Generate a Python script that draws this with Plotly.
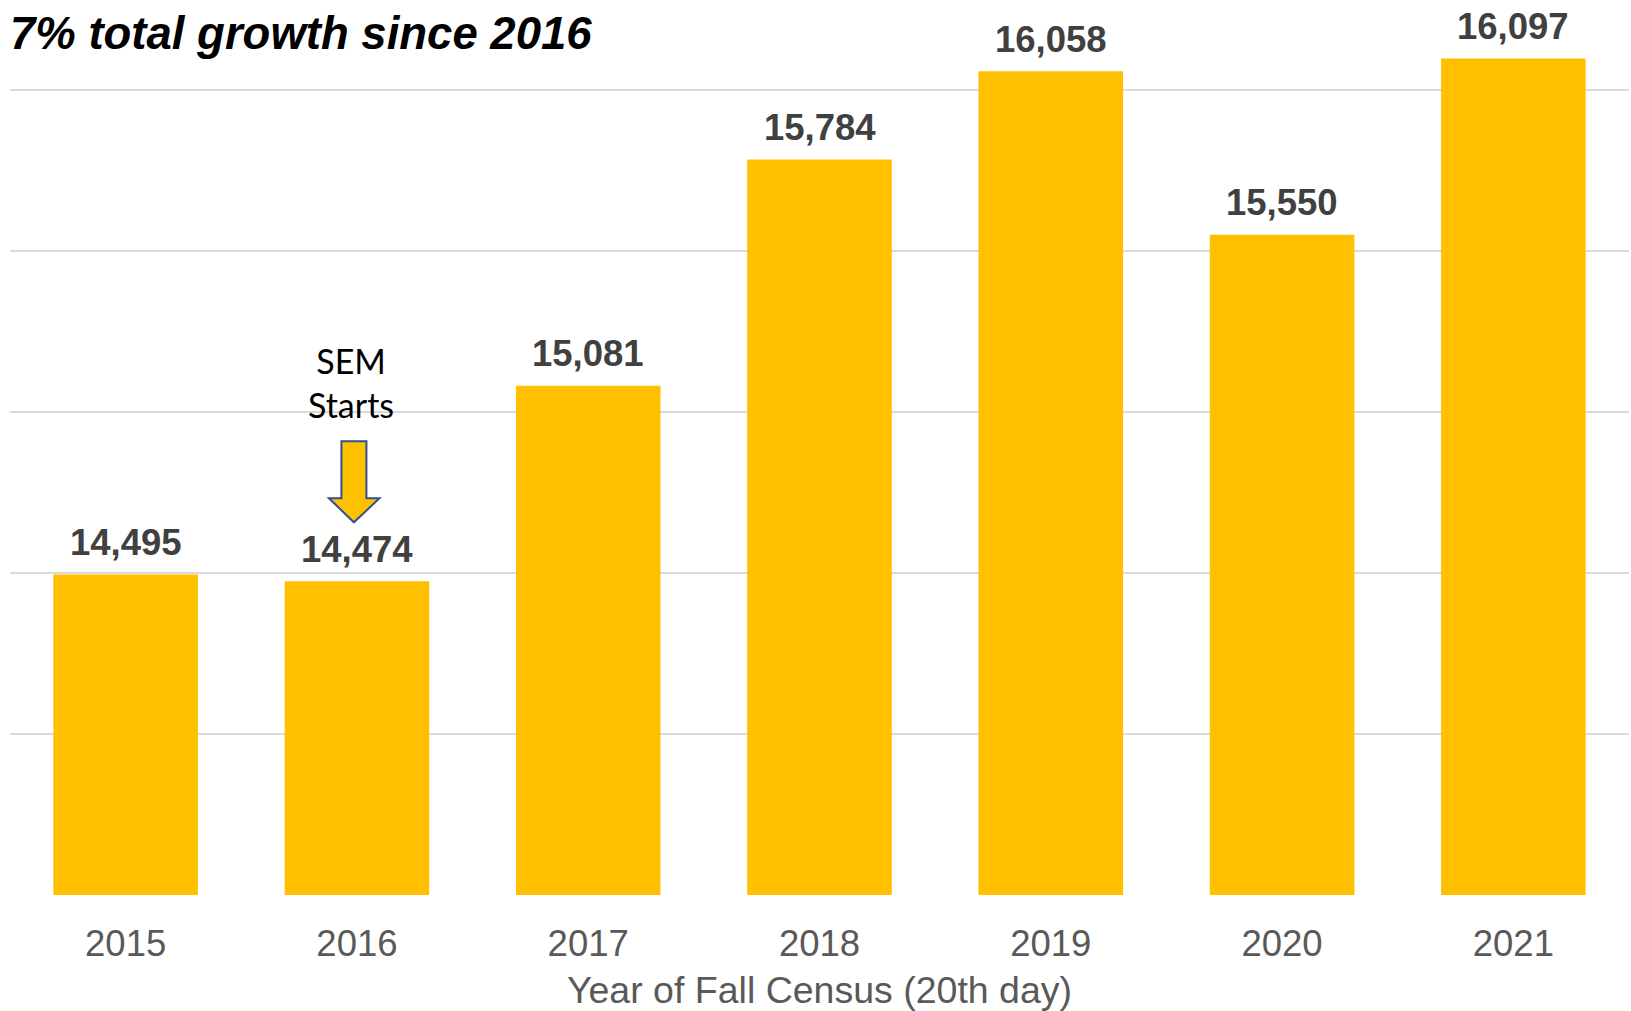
import plotly.graph_objects as go

years = ["2015", "2016", "2017", "2018", "2019", "2020", "2021"]
enrollment = [14495, 14474, 15081, 15784, 16058, 15550, 16097]
labels = [f"{v:,}" for v in enrollment]
title_text = "7% total growth since 2016"
axis_title = "Year of Fall Census (20th day)"
note_year = "2016"
note_text = "SEM<br>Starts"

BAR = "#FFC000"

fig = go.Figure()
fig.add_trace(go.Bar(
    x=years, y=enrollment, marker=dict(color=BAR, line=dict(width=0)),
    hoverinfo="x+y", showlegend=False,
))

for i, (v, t) in enumerate(zip(enrollment, labels)):
    fig.add_annotation(
        x=i, y=v, xref="x", yref="y", text=t, showarrow=False,
        yanchor="middle", yshift=32,
        font=dict(family="Liberation Sans, Arial", size=36.5, color="#404040", weight="bold"),
    )

ni = years.index(note_year)
note_val = enrollment[ni]
fig.add_annotation(
    x=ni, y=note_val, xref="x", yref="y", text=note_text, showarrow=False,
    xshift=-6, yshift=199, yanchor="middle",
    font=dict(family="Lato, Noto Sans", size=34, color="#000000"),
)

# block arrow, anchored to the 2016 bar top, pixel offsets
fig.add_shape(
    type="path", xref="x", yref="y",
    xsizemode="pixel", ysizemode="pixel",
    xanchor=ni, yanchor=note_val,
    path="M -15.5 140 L 9.5 140 L 9.5 83 L 22.5 83 L -3 59 L -28 83 L -15.5 83 Z",
    fillcolor=BAR, line=dict(color="#2F528F", width=2),
)

fig.update_layout(
    width=1631, height=1011,
    margin=dict(l=10, r=2, t=0, b=115.5),
    paper_bgcolor="white", plot_bgcolor="white",
    bargap=0.375,
    title=dict(
        text=title_text, x=10 / 1631, xref="container", xanchor="left",
        y=1 - 33 / 1011, yref="container", yanchor="middle",
        font=dict(family="Liberation Sans, Arial", size=45.5, color="#000000",
                  weight="bold", style="italic"),
    ),
    xaxis=dict(
        type="category", range=[-0.5, len(years) - 0.5],
        showgrid=False, zeroline=False, showline=False,
        ticks="outside", ticklen=16, tickcolor="rgba(0,0,0,0)",
        tickfont=dict(family="Liberation Sans, Arial", size=36.5, color="#595959"),
        title=dict(text=axis_title, standoff=13,
                   font=dict(family="Liberation Sans, Arial", size=37.5, color="#595959")),
    ),
    yaxis=dict(
        range=[13500, 16279], dtick=500, tick0=13500,
        showgrid=True, gridcolor="#D9D9D9", gridwidth=2,
        zeroline=False, showline=False, showticklabels=False, ticks="",
    ),
)

fig.write_html("out.html")
